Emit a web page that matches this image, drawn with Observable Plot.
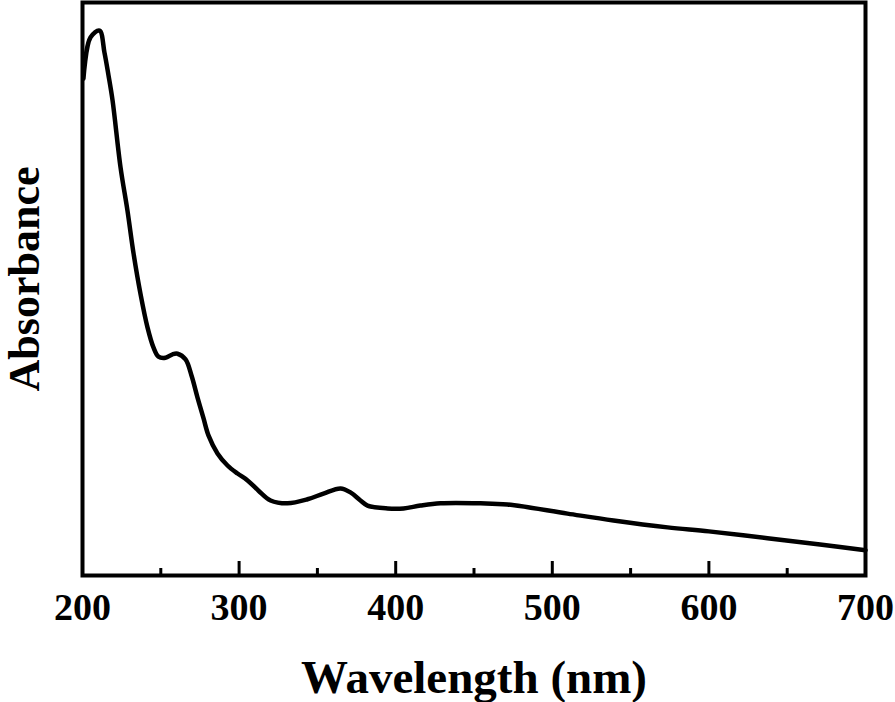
<!DOCTYPE html>
<html><head>
<meta charset="utf-8">
<script src="https://cdn.jsdelivr.net/npm/d3@7"></script>
<script src="https://cdn.jsdelivr.net/npm/@observablehq/plot@0.6"></script>
<style>body{margin:0;background:#fff}</style>
</head><body><div id="chart"></div>
<script>
const wavelength = [200.6,205.1,210.9,214.0,216.6,219.2,224.3,228.7,232.6,237.0,241.5,245.3,248.5,253.0,257.5,260.7,265.8,269.6,273.4,277.3,280.5,286.2,292.6,299.0,305.4,312.4,320.1,330.9,343.7,353.9,364.8,371.1,377.5,382.0,394.8,405.0,415.8,428.6,454.2,471.4,509.7,539.1,573.6,600,637.4,671,700];
const absorbance = [0.867,0.939,0.951,0.913,0.873,0.829,0.712,0.637,0.562,0.492,0.433,0.398,0.382,0.380,0.386,0.387,0.377,0.349,0.311,0.274,0.244,0.213,0.192,0.178,0.166,0.148,0.131,0.126,0.133,0.143,0.152,0.145,0.131,0.122,0.117,0.117,0.122,0.126,0.126,0.124,0.108,0.096,0.084,0.077,0.065,0.054,0.044];
const majorTicks = [200,300,400,500,600,700];
const minorTicks = [250,350,450,550,650];
const xLabel = "Wavelength (nm)";
const yLabel = "Absorbance";
const data = wavelength.map((w, i) => ({w, a: absorbance[i]}));
const font = "'Liberation Serif', 'Times New Roman', serif";
const chart = Plot.plot({
  width: 895, height: 702,
  marginLeft: 82, marginRight: 30, marginTop: 2, marginBottom: 127,
  style: {fontFamily: font, fontWeight: "bold", background: "#fff", color: "#000"},
  x: {domain: [200, 700]},
  y: {domain: [0, 1], axis: null},
  marks: [
    Plot.axisX(majorTicks, {tickSize: -14, strokeWidth: 3, tickPadding: 32, fontSize: 38, fontWeight: "bold", label: null, tickFormat: d => String(d)}),
    Plot.axisX(minorTicks, {tickSize: -7, strokeWidth: 3, tickFormat: () => "", label: null}),
    Plot.frame({strokeWidth: 4}),
    Plot.line(data, {x: "w", y: "a", strokeWidth: 4.5, curve: "catmull-rom"}),
    Plot.text([xLabel], {frameAnchor: "bottom", dy: 102, fontSize: 47, fontWeight: "bold", lineAnchor: "middle"}),
    Plot.text([yLabel], {frameAnchor: "left", dx: -58, dy: -10, rotate: -90, fontSize: 44, fontWeight: "bold", lineAnchor: "middle", textAnchor: "middle"})
  ]
});
document.getElementById("chart").appendChild(chart);
</script>
</body></html>
